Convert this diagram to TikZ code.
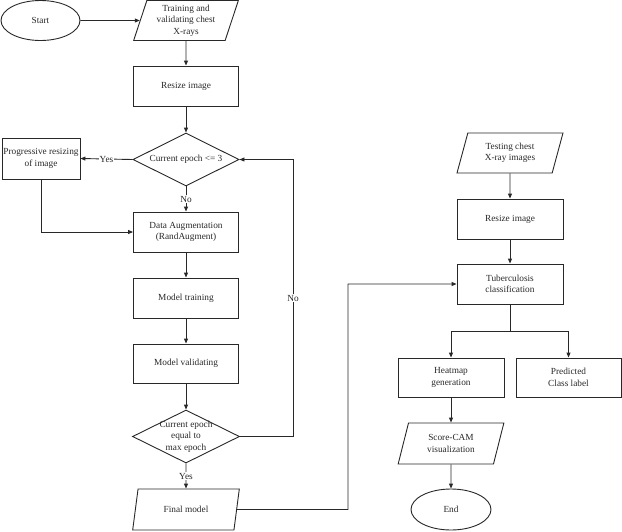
\documentclass[tikz,border=0pt]{standalone}
\usepackage{fontspec}
\setmainfont{Liberation Serif}
\usetikzlibrary{shapes.geometric,arrows.meta}
\definecolor{ink}{RGB}{40,40,40}
\tikzset{
  base/.style={draw=ink, line width=0.9pt, text=ink, font=\fontsize{9.3}{11.5}\selectfont, align=center, inner sep=1pt},
  procbox/.style={base, rectangle, minimum width=105pt, minimum height=40pt},
  iobox/.style={base, trapezium, trapezium left angle=73, trapezium right angle=107, trapezium stretches=true, minimum width=105pt, minimum height=40pt},
  termbox/.style={base, ellipse, minimum width=79pt, minimum height=40pt},
  decbox/.style={base, diamond, minimum width=106pt, minimum height=53pt, aspect=2},
  arr/.style={draw=ink, line width=0.9pt, -{Triangle[length=5pt,width=4pt]}},
  ln/.style={draw=ink, line width=0.9pt},
  lbl/.style={fill=white, text=ink, font=\fontsize{9.3}{11.5}\selectfont, inner sep=1pt}
}
\begin{document}
\begin{tikzpicture}[x=1pt,y=-1pt]
\useasboundingbox (0,0) rectangle (622,531);
% left column
\node[termbox] (start) at (40.5,20.5) {Start};
\node[iobox] (trainin) at (186,20.5) {Training and\\validating chest\\X-rays};
\node[procbox] (resize1) at (186,86) {Resize image};
\node[decbox] (dec1) at (186,159.5) {};
\node[text=ink, font=\fontsize{9.3}{11.5}\selectfont, inner sep=0pt] (dec1t) at (dec1) {Current epoch <= 3};
\node[procbox, minimum width=78pt, minimum height=41pt, inner sep=0pt] (prog) at (41,158.5) {Progressive resizing\\of image};
\node[procbox] (aug) at (186,232) {Data Augmentation\\(RandAugment)};
\node[procbox] (mtrain) at (186,298) {Model training};
\node[procbox, minimum height=39pt] (mvalid) at (186,363.5) {Model validating};
\node[decbox, minimum width=107pt] (dec2) at (186,436.5) {};
\node[text=ink, font=\fontsize{9.3}{11.5}\selectfont, align=center, inner sep=0pt] (dec2t) at (dec2) {Current epoch\\equal to\\max epoch};
\node[iobox, minimum width=107pt, minimum height=41pt] (final) at (186,509.5) {Final model};
% right column
\node[iobox, minimum width=106pt] (testin) at (510,153) {Testing chest\\X-ray images};
\node[procbox, minimum width=106pt] (resize2) at (510,219) {Resize image};
\node[procbox, minimum width=106pt] (tb) at (510,284) {Tuberculosis\\classification};
\node[procbox, minimum width=106pt, minimum height=39pt] (heat) at (451,377.5) {Heatmap\\generation};
\node[procbox, minimum height=39pt] (pred) at (568.5,377.5) {Predicted\\Class label};
\node[iobox, minimum width=106pt, minimum height=41pt] (score) at (451,443.5) {Score-CAM\\visualization};
\node[termbox, minimum width=80pt, minimum height=41pt] (endn) at (451,509.5) {End};
% coordinates
\coordinate (loopc) at (293,159.5);
\coordinate (c1) at (348,509.5);
\coordinate (c2) at (348,284);
\coordinate (split) at (510,331);
% connectors
\draw[arr] (start) -- (trainin);
\draw[arr] (trainin) -- (resize1);
\draw[arr] (resize1) -- (dec1);
\draw[arr] (dec1.west) -- node[lbl]{Yes} (prog.east);
\draw[arr] (dec1.south) -- node[lbl]{No} (aug.north);
\draw[arr] (prog.south) |- (aug.west);
\draw[arr] (aug) -- (mtrain);
\draw[arr] (mtrain) -- (mvalid);
\draw[arr] (mvalid) -- (dec2);
\draw[arr] (dec2.east) -| node[lbl, pos=0.75]{No} (loopc) -- (dec1.east);
\draw[arr] (dec2.south) -- node[lbl]{Yes} (final.north);
\draw[arr] (final.east) -- (c1) -- (c2) -- (tb.west);
\draw[arr] (testin) -- (resize2);
\draw[arr] (resize2) -- (tb);
\draw[ln] (tb.south) -- (split);
\draw[arr] (split) -| (heat.north);
\draw[arr] (split) -| (pred.north);
\draw[arr] (heat) -- (score);
\draw[arr] (score) -- (endn);
\end{tikzpicture}
\end{document}
